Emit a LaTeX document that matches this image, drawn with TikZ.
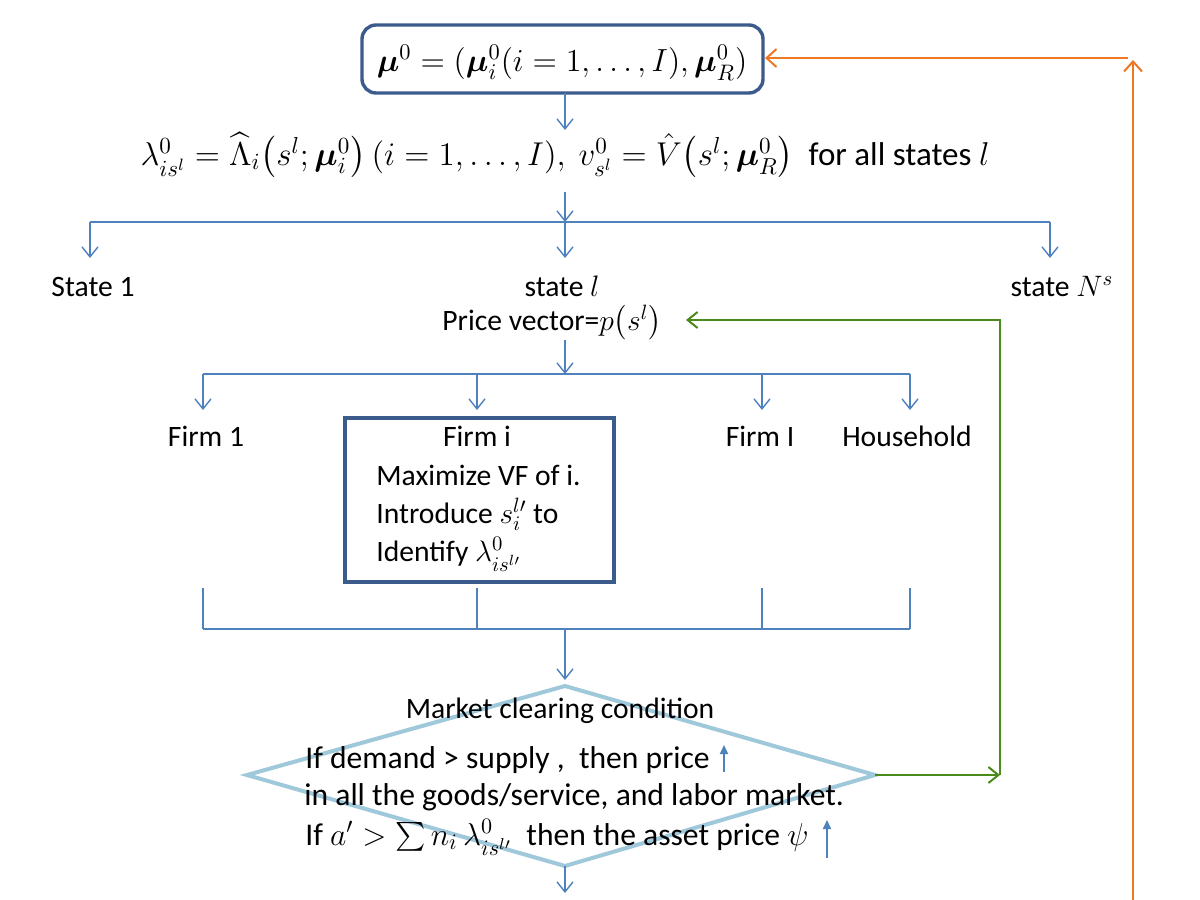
\RequirePackage{fix-cm}
\documentclass[tikz,border=0pt]{standalone}
\usepackage{amsmath}
\usepackage{bm}
\usepackage{fontspec}
\setmainfont{Carlito}
\usetikzlibrary{arrows.meta}
\definecolor{linkblue}{HTML}{4F81BD}
\definecolor{boxblue}{HTML}{3B5B8C}
\definecolor{loopgreen}{HTML}{4A8A1C}
\definecolor{looporange}{HTML}{EE7722}
\definecolor{diamblue}{HTML}{9FC9DB}
\tikzset{
  txt/.style={font=\fontsize{14.8}{18}\selectfont, inner sep=0pt, anchor=base},
  dtxt/.style={font=\fontsize{15.8}{19}\selectfont, inner sep=0pt, anchor=base west},
  mathtxt/.style={font=\fontsize{16}{19}\selectfont, inner sep=0pt, anchor=base},
  link/.style={draw=linkblue, line width=0.7pt, -{Straight Barb[length=5pt,width=8pt]}},
  plain/.style={draw=linkblue, line width=0.7pt},
  uparr/.style={draw=linkblue, line width=0.9pt, -{Triangle[length=4.5pt,width=4pt]}},
  frame/.style={draw=boxblue, line width=1.7pt},
  greenloop/.style={draw=loopgreen, line width=1pt, -{Straight Barb[length=5pt,width=8pt]}},
  orangeloop/.style={draw=looporange, line width=1pt, -{Straight Barb[length=5pt,width=9pt]}},
}
\begin{document}
\begin{tikzpicture}[x=0.5pt,y=-0.5pt]
\useasboundingbox (0,0) rectangle (1200,900);
% initial distribution and value functions
\draw[frame, rounded corners=7pt] (362,25) rectangle (763,93);
\node[mathtxt] (mu0) at (562,71) {$\bm{\mu}^0=(\bm{\mu}^0_i(i=1,\ldots,I),\bm{\mu}^0_R)$};
\node[mathtxt, font=\fontsize{16.5}{19}\selectfont] (lam) at (565,165) {$\lambda^0_{is^l}=\widehat{\Lambda}_i\bigl(s^l;\bm{\mu}^0_i\bigr)\,(i=1,\ldots,I),\ v^0_{s^l}=\hat{V}\bigl(s^l;\bm{\mu}^0_R\bigr)$\ \ for all states $l$};
\coordinate (mu0b) at (565,93);
\coordinate (lamt) at (565,130);
\draw[link] (mu0b) -- (lamt);
% branches over the states
\coordinate (lamb) at (565,192);
\coordinate (sj) at (565,222);
\coordinate (s1) at (90,222);
\coordinate (sN) at (1050,222);
\draw[link] (lamb) -- (sj);
\draw[plain] (s1) -- (sN);
\foreach \x in {90,565,1050} \draw[link] (\x,222) -- (\x,258);
\node[txt] (st1) at (93,296) {State 1};
\node[txt] (stl) at (562,296) {state $l$};
\node[txt] (stN) at (1062,296) {state $N^s$};
\node[txt] (pv) at (552,330) {Price vector=$p\bigl(s^l\bigr)$};
% agents in state l
\coordinate (pvb) at (565,340);
\coordinate (aj) at (565,374);
\draw[link] (pvb) -- (aj);
\draw[plain] (203,374) -- (910,374);
\foreach \x in {203,477,762,910} \draw[link] (\x,374) -- (\x,410);
\node[txt] (f1) at (206,446) {Firm 1};
\draw[frame] (345,418) rectangle (614,582);
\node[txt] (fi) at (477,446) {Firm i};
\node[txt, anchor=base west] (fi2) at (376,485) {Maximize VF of i.};
\node[txt, anchor=base west] (fi3) at (376,523) {Introduce $s^{l\prime}_i$ to};
\node[txt, anchor=base west] (fi4) at (376,561) {Identify $\lambda^0_{is^{l\prime}}$};
\node[txt] (fI) at (760,446) {Firm I};
\node[txt] (hh) at (907,446) {Household};
\foreach \x in {203,477,762,910} \draw[plain] (\x,588) -- (\x,629);
\draw[plain] (203,629) -- (910,629);
\coordinate (cj) at (565,629);
\coordinate (mt) at (565,686);
\draw[link] (cj) -- (565,680);
% market clearing
\coordinate (mr) at (875,775);
\coordinate (mb) at (565,866);
\coordinate (ml) at (247,775);
\draw[draw=diamblue, line width=2pt] (mt) -- (mr) -- (mb) -- (ml) -- cycle;
\node[txt] (mcc) at (560,718) {Market clearing condition};
\node[dtxt] (dem) at (305,768) {If demand > supply\ ,\ \ then price};
\node[dtxt] (mkt) at (304,805) {in all the goods/service, and labor market.};
\node[dtxt] (ast) at (305,845) {If $a'>\sum n_i\,\lambda^0_{is^{l\prime}}$\ \ then the asset price $\psi$};
\draw[uparr] (724,772) -- (724,745);
\draw[uparr] (827,858) -- (827,820);
\draw[link] (mb) -- (565,893);
% feedback loops
\coordinate (gr) at (1000,775);
\coordinate (gt) at (1000,320);
\coordinate (pvr) at (686,320);
\draw[greenloop] (mr) -- (gr);
\draw[greenloop] (gr) -- (gt) -- (pvr);
\coordinate (ob) at (1133,900);
\coordinate (ot) at (1133,60);
\draw[orangeloop] (ob) -- (ot);
\draw[orangeloop] (1128,58) -- (765,58);
\end{tikzpicture}
\end{document}
